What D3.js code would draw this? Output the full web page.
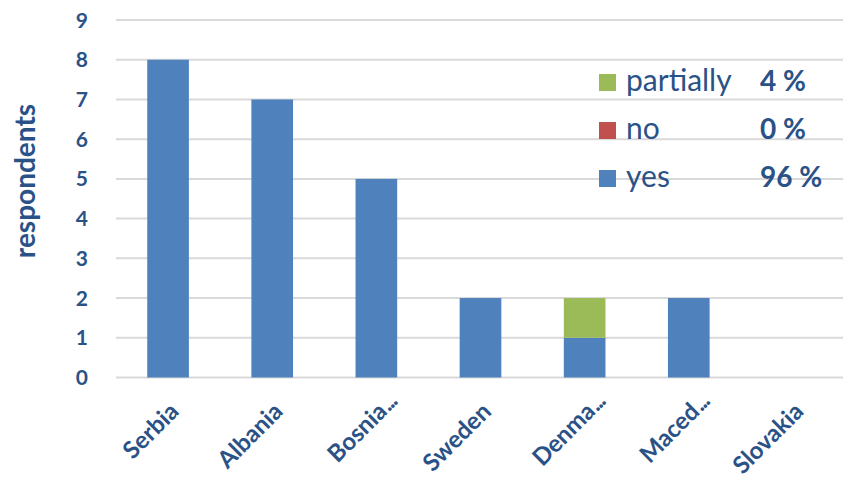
<!DOCTYPE html>
<html><head><meta charset="utf-8">
<script src="https://cdn.jsdelivr.net/npm/d3@7"></script>
<style>body{margin:0;background:#fff}svg{display:block}text{font-family:Lato,"Open Sans",sans-serif}</style>
</head><body><svg id="c" width="843" height="478"></svg>
<script>
const categories = ["Serbia","Albania","Bosnia...","Sweden","Denma...","Maced...","Slovakia"];
const yesValues = [8,7,5,2,1,2,0];
const noValues = [0,0,0,0,0,0,0];
const partiallyValues = [0,0,0,0,1,0,0];
const seriesNames = ["yes","no","partially"];
const seriesColors = ["#4F81BD","#C0504D","#9BBB59"];
const yTicks = [0,1,2,3,4,5,6,7,8,9];
const yTitle = "respondents";

const textColor = "#2A5287";
const svg = d3.select("#c");
const x = d3.scaleBand().domain(categories).range([116,845]).paddingInner(0.6).paddingOuter(0.3);
const y = d3.scaleLinear().domain([0,9]).range([377.5,20]);

// gridlines
svg.append("g").selectAll("line").data(yTicks).join("line")
  .attr("x1",116).attr("x2",843).attr("y1",d=>y(d)).attr("y2",d=>y(d))
  .attr("stroke","#D9D9D9").attr("stroke-width",2);

// y tick labels
svg.append("g").selectAll("text").data(yTicks).join("text")
  .attr("x",88).attr("y",d=>y(d)).attr("dy","0.36em").attr("text-anchor","end")
  .attr("font-size",21).attr("font-weight","bold").attr("fill",textColor).text(d=>d);

svg.append("text").attr("transform","translate(35,181) rotate(-90)").attr("text-anchor","middle")
  .attr("font-size",28).attr("font-weight","bold").attr("fill",textColor).text(yTitle);

// stacked data
const rows = categories.map((c,i)=>({cat:c, yes:yesValues[i], no:noValues[i], partially:partiallyValues[i]}));
const stacked = d3.stack().keys(seriesNames)(rows);
svg.append("g").selectAll("g").data(stacked).join("g").attr("fill",(d,i)=>seriesColors[i])
  .selectAll("rect").data(d=>d.filter(s=>s[1]-s[0]>0)).join("rect")
  .attr("x",d=>x(d.data.cat)).attr("width",x.bandwidth())
  .attr("y",d=>y(d[1])).attr("height",d=>y(d[0])-y(d[1]));

// x labels
const xl = svg.append("g");
categories.forEach(c=>{
  const parts = c.split("...");
  const px = x(c)+x.bandwidth()/2+12, py = 413;
  const g = xl.append("g").attr("transform",`translate(${px},${py}) rotate(-45)`);
  g.append("text").attr("text-anchor","end").attr("font-size",24).attr("font-weight","bold")
    .attr("fill",textColor).text(parts[0]);
  if (parts.length>1) g.append("text").attr("x",1).attr("text-anchor","start").attr("font-size",24).attr("font-weight","bold")
    .attr("letter-spacing",-1.5).attr("fill",textColor).text("...");
});

// legend
const total = d3.sum(yesValues)+d3.sum(noValues)+d3.sum(partiallyValues);
const legendItems = [
  {name:"partially", color:seriesColors[2], pct:d3.sum(partiallyValues)/total},
  {name:"no", color:seriesColors[1], pct:d3.sum(noValues)/total},
  {name:"yes", color:seriesColors[0], pct:d3.sum(yesValues)/total}
];
const lg = svg.append("g").selectAll("g").data(legendItems).join("g")
  .attr("transform",(d,i)=>`translate(0,${91+i*48})`);
lg.append("rect").attr("x",599).attr("y",-17).attr("width",17).attr("height",17).attr("fill",d=>d.color);
lg.append("text").attr("x",626).attr("y",0).attr("font-size",30).attr("fill",textColor).text(d=>d.name);
lg.append("text").attr("x",760).attr("y",0).attr("font-size",28).attr("font-weight","bold").attr("fill",textColor)
  .text(d=>Math.round(d.pct*100)+" %");
</script></body></html>
